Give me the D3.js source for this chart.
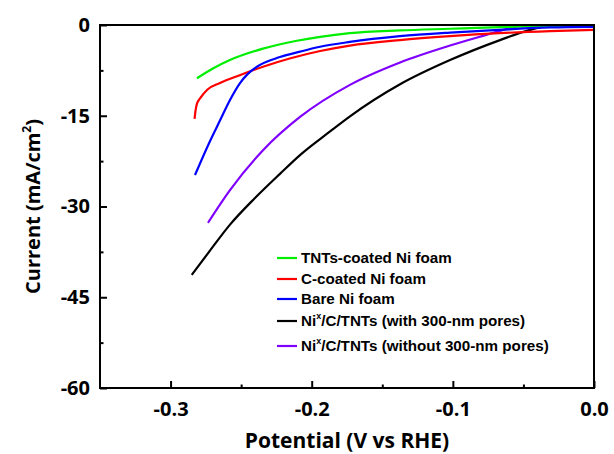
<!DOCTYPE html>
<html>
<head>
<meta charset="utf-8">
<script src="https://cdn.jsdelivr.net/npm/d3@7"></script>
<style>
  body { margin: 0; background: #fff; }
  svg { display: block; }
</style>
</head>
<body>
<div id="container"></div>
<script>
// ==================== data ==================== //

const seriesNames = [
    "TNTs-coated Ni foam",
    "C-coated Ni foam",
    "Bare Ni foam",
    "Ni|x|/C/TNTs (with 300-nm pores)",
    "Ni|x|/C/TNTs (without 300-nm pores)"
];
const seriesColors = ["#00ee00", "#ff0000", "#0000ff", "#000000", "#8000ff"];

// [potential (V vs RHE), current (mA/cm2)]
const tntsCoated = [
    [-0.2813, -8.8], [-0.27, -7.2], [-0.258, -5.8], [-0.2345, -3.9], [-0.2105, -2.6],
    [-0.194, -1.95], [-0.173, -1.35], [-0.1375, -0.9], [-0.102, -0.62], [-0.067, -0.35],
    [-0.03, -0.15], [0, -0.1]
];
const cCoated = [
    [-0.283, -15.5], [-0.2822, -14.0], [-0.2813, -13.0], [-0.279, -12.1], [-0.274, -10.7],
    [-0.265, -9.6], [-0.251, -8.3], [-0.2345, -6.9], [-0.215, -5.5], [-0.194, -4.3],
    [-0.173, -3.4], [-0.1375, -2.5], [-0.102, -1.85], [-0.067, -1.35], [-0.031, -1.0], [0, -0.8]
];
const bareNi = [
    [-0.2827, -24.8], [-0.2721, -19.2], [-0.265, -15.8], [-0.2579, -12.4], [-0.2508, -9.6],
    [-0.2458, -8.2], [-0.2388, -6.9], [-0.2225, -5.3], [-0.2083, -4.4], [-0.1941, -3.6],
    [-0.173, -2.8], [-0.1375, -1.85], [-0.102, -1.25], [-0.067, -0.8], [-0.031, -0.4], [0, -0.3]
];
const withPores = [
    [-0.285, -41.3], [-0.2721, -37.3], [-0.2579, -33.0], [-0.2402, -28.6], [-0.2225, -24.6],
    [-0.2083, -21.5], [-0.187, -17.6], [-0.1729, -15.1], [-0.1374, -9.8], [-0.102, -5.8],
    [-0.0666, -2.5], [-0.0453, -0.8], [-0.035, -0.25], [-0.02, -0.05], [0, 0]
];
const withoutPores = [
    [-0.2735, -32.7], [-0.2579, -27.3], [-0.2345, -20.7], [-0.2083, -15.2], [-0.1729, -9.9],
    [-0.1374, -6.2], [-0.102, -3.4], [-0.0758, -1.6], [-0.0595, -0.5], [-0.0524, -0.1],
    [-0.03, -0.05], [0, -0.05]
];
const allSeries = [tntsCoated, cCoated, bareNi, withPores, withoutPores];

const xMajorTicks = [-0.3, -0.2, -0.1, 0];
const xMinorTicks = [-0.25, -0.15, -0.05];
const yMajorTicks = [0, -15, -30, -45, -60];
const yMinorTicks = [-7.5, -22.5, -37.5, -52.5];

// ==================== layout ==================== //

const W = 614, H = 454;
const margin = { top: 25, right: 20, bottom: 66, left: 100 };
const innerW = W - margin.left - margin.right;
const innerH = H - margin.top - margin.bottom;
const tickFont = "'Open Sans', sans-serif";
const legendFont = "'Liberation Sans', Arial, sans-serif";

const svg = d3.select("#container")
    .append("svg")
    .attr("width", W)
    .attr("height", H);

const g = svg.append("g")
    .attr("transform", `translate(${margin.left},${margin.top})`);

const x = d3.scaleLinear().domain([-0.35, 0]).range([0, innerW]);
const y = d3.scaleLinear().domain([-60, 0]).range([innerH, 0]);

g.append("clipPath").attr("id", "clip")
    .append("rect").attr("width", innerW).attr("height", innerH);

// curves
const line = d3.line()
    .x(d => x(d[0]))
    .y(d => y(d[1]))
    .curve(d3.curveMonotoneX);

const drawOrder = [3, 4, 1, 0, 2];
drawOrder.forEach(i => {
    g.append("path")
        .datum(allSeries[i])
        .attr("clip-path", "url(#clip)")
        .attr("fill", "none")
        .attr("stroke", seriesColors[i])
        .attr("stroke-width", 2.2)
        .attr("stroke-linejoin", "round")
        .attr("d", line);
});

// axes (ticks pointing inward)
function styleAxis(sel) {
    sel.select(".domain").remove();
    sel.selectAll(".tick line").attr("stroke", "#000").attr("stroke-width", 2);
    sel.selectAll(".tick text")
        .attr("font-family", tickFont)
        .attr("font-weight", "bold")
        .attr("font-size", 20)
        .attr("fill", "#000");
}

g.append("g")
    .attr("transform", `translate(0,${innerH})`)
    .call(d3.axisBottom(x).tickValues(xMajorTicks).tickSize(-7).tickPadding(14)
        .tickFormat(d => d.toFixed(1)))
    .call(styleAxis);

g.append("g")
    .attr("transform", `translate(0,${innerH})`)
    .call(d3.axisBottom(x).tickValues(xMinorTicks).tickSize(-3.5).tickFormat(""))
    .call(styleAxis);

g.append("g")
    .call(d3.axisLeft(y).tickValues(yMajorTicks).tickSize(-7).tickPadding(10)
        .tickFormat(d => String(d)))
    .call(styleAxis);

g.append("g")
    .call(d3.axisLeft(y).tickValues(yMinorTicks).tickSize(-3.5).tickFormat(""))
    .call(styleAxis);

// frame
g.append("rect")
    .attr("width", innerW)
    .attr("height", innerH)
    .attr("fill", "none")
    .attr("stroke", "#000")
    .attr("stroke-width", 2);

// axis titles
svg.append("text")
    .attr("x", margin.left + innerW / 2)
    .attr("y", 448)
    .attr("text-anchor", "middle")
    .attr("font-family", tickFont)
    .attr("font-weight", "bold")
    .attr("font-size", 21)
    .text("Potential (V vs RHE)");

const yTitle = svg.append("text")
    .attr("transform", `translate(40,${margin.top + innerH / 2}) rotate(-90)`)
    .attr("text-anchor", "middle")
    .attr("font-family", tickFont)
    .attr("font-weight", "bold")
    .attr("font-size", 20);
yTitle.append("tspan").text("Current (mA/cm");
yTitle.append("tspan").attr("font-size", 12).attr("dy", -9).text("2");
yTitle.append("tspan").attr("dy", 9).text(")");

// legend
const legendRows = [258, 279, 299, 321, 346];
const legend = svg.append("g");
seriesNames.forEach((name, i) => {
    const ly = legendRows[i];
    legend.append("line")
        .attr("x1", 277).attr("x2", 297)
        .attr("y1", ly).attr("y2", ly)
        .attr("stroke", seriesColors[i])
        .attr("stroke-width", 2.2);
    const t = legend.append("text")
        .attr("x", 301)
        .attr("y", ly + 5)
        .attr("font-family", legendFont)
        .attr("font-weight", "bold")
        .attr("font-size", 15.2)
        .attr("fill", "#000");
    const parts = name.split("|");
    t.append("tspan").text(parts[0]);
    if (parts.length > 1) {
        t.append("tspan").attr("font-size", 9).attr("dy", -7).text(parts[1]);
        t.append("tspan").attr("dy", 7).text(parts[2]);
    }
});
</script>
</body>
</html>
